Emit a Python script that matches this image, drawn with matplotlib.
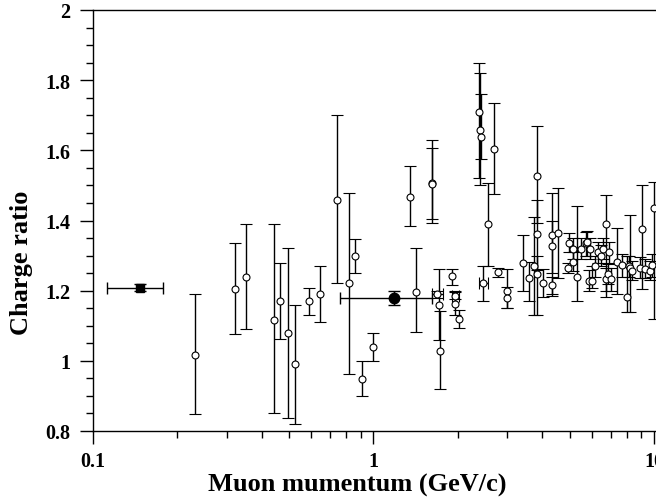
import matplotlib
matplotlib.use('Agg')
import matplotlib.pyplot as plt
import numpy as np
from matplotlib.ticker import MultipleLocator, LogLocator, FixedLocator, FuncFormatter, NullFormatter

# ---- data ----
# open circles: momentum, ratio, lower end of error bar, upper end of error bar
open_x = [0.231, 0.321, 0.350, 0.443, 0.464, 0.494, 0.524, 0.589, 0.644, 0.743,
          0.820, 0.859, 0.908, 1.000, 1.349, 1.413, 1.620, 1.620, 1.71, 1.72,
          1.91, 1.95, 2.02, 2.38, 2.40, 2.42, 2.57, 2.69, 2.79, 3.00,
          3.00, 3.40, 3.58, 3.73, 3.82, 3.82, 3.82, 4.01, 4.32, 4.32,
          4.32, 4.56, 4.95, 4.99, 5.13, 5.16, 5.33, 5.49, 5.71, 5.76,
          5.88, 5.92, 6.03, 6.17, 6.33, 6.47, 6.60, 6.72, 6.72, 6.87,
          6.90, 7.03, 7.36, 7.67, 8.00, 8.15, 8.22, 8.33, 8.91, 9.08,
          9.29, 9.68, 9.82, 10.0]
open_y = [1.017, 1.205, 1.240, 1.117, 1.170, 1.078, 0.990, 1.170, 1.190, 1.458,
          1.222, 1.298, 0.948, 1.040, 1.466, 1.197, 1.508, 1.505, 1.159, 1.029,
          1.241, 1.162, 1.119, 1.708, 1.658, 1.638, 1.390, 1.603, 1.252, 1.200,
          1.179, 1.279, 1.236, 1.269, 1.527, 1.361, 1.247, 1.221, 1.358, 1.328,
          1.216, 1.363, 1.266, 1.336, 1.281, 1.320, 1.240, 1.320, 1.337, 1.339,
          1.228, 1.318, 1.228, 1.269, 1.311, 1.300, 1.318, 1.390, 1.233, 1.247,
          1.311, 1.233, 1.282, 1.273, 1.181, 1.269, 1.265, 1.257, 1.264, 1.377,
          1.262, 1.257, 1.273, 1.437]
open_lo = [0.848, 1.076, 1.090, 0.850, 1.061, 0.837, 0.820, 1.130, 1.111, 1.222,
           0.962, 1.250, 0.900, 1.000, 1.385, 1.081, 1.393, 1.404, 1.060, 0.920,
           1.215, 1.130, 1.093, 1.520, 1.500, 1.575, 1.271, 1.475, 1.238, 1.152,
           1.152, 1.200, 1.170, 1.131, 1.393, 1.260, 1.130, 1.181, 1.184, 1.250,
           1.190, 1.235, 1.250, 1.310, 1.255, 1.290, 1.171, 1.290, 1.300, 1.300,
           1.200, 1.290, 1.209, 1.240, 1.280, 1.270, 1.290, 1.181, 1.200, 1.220,
           1.280, 1.200, 1.190, 1.240, 1.138, 1.240, 1.138, 1.230, 1.235, 1.205,
           1.235, 1.230, 1.240, 1.119]
open_hi = [1.190, 1.336, 1.390, 1.390, 1.279, 1.321, 1.160, 1.209, 1.271, 1.702,
           1.478, 1.347, 0.999, 1.079, 1.556, 1.321, 1.629, 1.608, 1.262, 1.143,
           1.262, 1.200, 1.146, 1.850, 1.820, 1.760, 1.508, 1.736, 1.266, 1.262,
           1.210, 1.358, 1.282, 1.409, 1.670, 1.459, 1.300, 1.262, 1.478, 1.400,
           1.240, 1.494, 1.280, 1.364, 1.310, 1.350, 1.442, 1.350, 1.368, 1.370,
           1.260, 1.350, 1.270, 1.300, 1.340, 1.330, 1.350, 1.472, 1.265, 1.275,
           1.340, 1.265, 1.380, 1.305, 1.300, 1.300, 1.415, 1.285, 1.295, 1.500,
           1.290, 1.285, 1.305, 1.510]

# open circles with horizontal error bars
hbar_x = [1.689, 1.953, 2.45]
hbar_y = [1.190, 1.185, 1.222]
hbar_xlo = [1.62, 1.90, 2.38]
hbar_xhi = [1.77, 2.01, 2.55]
hbar_ylo = [1.180, 1.175, 1.171]
hbar_yhi = [1.200, 1.195, 1.271]

# filled square
sq_x, sq_y = [0.147], [1.208]
sq_xlo, sq_xhi = [0.112], [0.178]
sq_yerr = [0.010]

# filled circle
fc_x, fc_y = [1.186], [1.178]
fc_xlo, fc_xhi = [0.76], [1.61]
fc_yerr = [0.020]

x_ticks = [0.1, 1, 10]
x_ticklabels = ['0.1', '1', '10']
y_ticks = [0.8, 1.0, 1.2, 1.4, 1.6, 1.8, 2.0]

# ---- figure ----
plt.rcParams['font.family'] = ['Liberation Serif', 'DejaVu Serif']
plt.rcParams['font.weight'] = 'bold'

fig = plt.figure(figsize=(6.56, 5.02), dpi=100)
ax = fig.add_axes([93/656, 70/502, (656-93)/656, 421/502])
ax.set_xscale('log')
ax.set_xlim(0.1, 10.166)
ax.set_ylim(0.8, 2.0)

ox = np.array(open_x); oy = np.array(open_y)
olo = np.array(open_lo); ohi = np.array(open_hi)
ax.errorbar(ox, oy, yerr=[oy - olo, ohi - oy], fmt='o', ms=5.0, mfc='white',
            mec='black', mew=0.8, color='black', ecolor='black', elinewidth=1.0,
            capsize=4, capthick=1.0, zorder=3, clip_on=True)

hx = np.array(hbar_x); hy = np.array(hbar_y)
ax.errorbar(hx, hy, xerr=[hx - np.array(hbar_xlo), np.array(hbar_xhi) - hx],
            yerr=[hy - np.array(hbar_ylo), np.array(hbar_yhi) - hy],
            fmt='o', ms=5.0, mfc='white', mec='black', mew=0.8, color='black',
            ecolor='black', elinewidth=1.0, capsize=4, capthick=1.0, zorder=3)

sx = np.array(sq_x)
ax.errorbar(sx, sq_y, xerr=[sx - np.array(sq_xlo), np.array(sq_xhi) - sx],
            yerr=sq_yerr, fmt='s', ms=6, mfc='black', mec='black', color='black',
            elinewidth=1.0, capsize=4, capthick=1.0, zorder=4)

fx = np.array(fc_x)
ax.errorbar(fx, fc_y, xerr=[fx - np.array(fc_xlo), np.array(fc_xhi) - fx],
            yerr=fc_yerr, fmt='o', ms=7.5, mfc='black', mec='black', color='black',
            elinewidth=1.0, capsize=4, capthick=1.0, zorder=4)

# ticks
ax.xaxis.set_major_locator(FixedLocator(x_ticks))
ax.xaxis.set_major_formatter(FuncFormatter(lambda v, p: x_ticklabels[x_ticks.index(v)] if v in x_ticks else ''))
ax.xaxis.set_minor_locator(LogLocator(base=10, subs=np.arange(2, 10)))
ax.xaxis.set_minor_formatter(NullFormatter())
ax.yaxis.set_major_locator(FixedLocator(y_ticks))
ax.yaxis.set_major_formatter(FuncFormatter(lambda v, p: '%g' % round(v, 2)))
ax.yaxis.set_minor_locator(MultipleLocator(0.05))

ax.tick_params(which='major', direction='out', length=9.4, width=1.0,
               labelsize=14.5, top=False, right=False)
ax.tick_params(axis='y', which='major', pad=7)
ax.tick_params(axis='x', which='major', pad=5)
ax.tick_params(which='minor', direction='out', length=5, width=1.0, top=False, right=False)
for lbl in ax.get_xticklabels() + ax.get_yticklabels():
    lbl.set_fontweight('bold')

for s in ['left', 'bottom', 'top']:
    ax.spines[s].set_linewidth(1.0)
ax.spines['right'].set_visible(False)

ax.set_xlabel('Muon mumentum (GeV/c)', fontsize=19, fontweight='bold')
ax.set_ylabel('Charge ratio', fontsize=19, fontweight='bold')
ax.xaxis.label.set_va('center')
ax.yaxis.label.set_va('center')
ax.xaxis.set_label_coords((357-93)/563, (432-485)/421)
ax.yaxis.set_label_coords((22-93)/563, (432-263)/421)

fig.savefig('out.png', dpi=100)
